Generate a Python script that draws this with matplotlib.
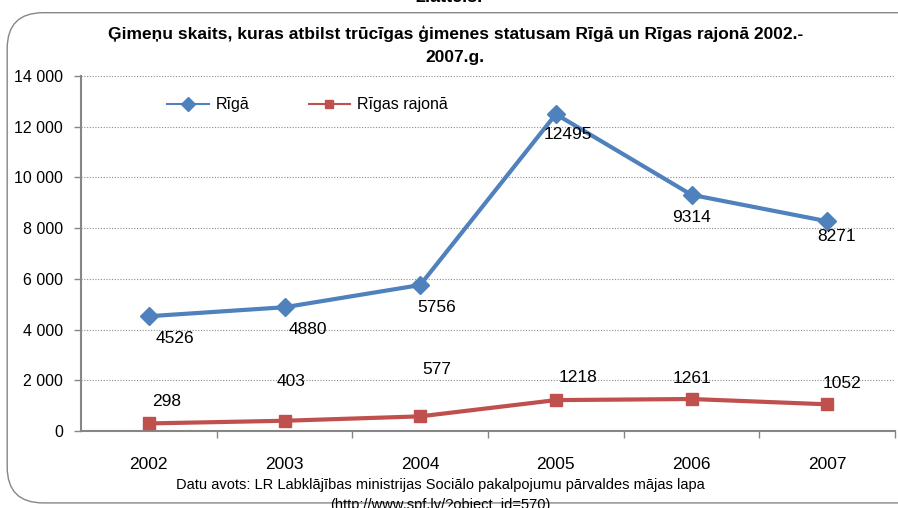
import matplotlib
matplotlib.use("Agg")
import matplotlib.pyplot as plt
from matplotlib.patches import FancyBboxPatch
from matplotlib.ticker import FuncFormatter, FixedLocator
import numpy as np

years = ["2002", "2003", "2004", "2005", "2006", "2007"]
riga = [4526, 4880, 5756, 12495, 9314, 8271]
rajons = [298, 403, 577, 1218, 1261, 1052]

# label offsets in points (dx, dy)
riga_off = [(19, -16), (17, -16), (12, -16), (9, -15), (0, -16), (7, -11)]
rajons_off = [(13, 16), (5, 28.5), (12, 33.5), (16, 16), (0, 15), (11, 15)]

BLUE = "#4F81BD"
RED = "#C0504D"
GRAY = "#868686"
FONT = ["Liberation Sans Narrow", "Liberation Sans", "DejaVu Sans"]
plt.rcParams["font.family"] = FONT

fig = plt.figure(figsize=(8.98, 5.08), dpi=100)
border = FancyBboxPatch((0.008, 0.01), 1.2, 0.965, boxstyle="round,pad=0,rounding_size=0.04",
                        transform=fig.transFigure, facecolor="white", edgecolor=GRAY, lw=1.0,
                        mutation_aspect=898 / 508, zorder=-10)
fig.patches.append(border)

fig.text(0.5, 1.005, "2.attēls.", ha="center", va="center", fontsize=13, fontweight="bold")
fig.text(0.507, 0.933, "Ģimeņu skaits, kuras atbilst trūcīgas ģimenes statusam Rīgā un Rīgas rajonā 2002.-",
         ha="center", va="center", fontsize=12.5, fontweight="bold")
fig.text(0.507, 0.886, "2007.g.", ha="center", va="center", fontsize=12.5, fontweight="bold")

ax = fig.add_axes([0.0902, 0.1516, 0.9065, 0.6988])
x = np.arange(len(years))
ax.plot(x, riga, color=BLUE, lw=3, marker="D", ms=9, label="Rīgā", zorder=3)
ax.plot(x, rajons, color=RED, lw=3, marker="s", ms=8, label="Rīgas rajonā", zorder=3)

for xi, v, (dx, dy) in zip(x, riga, riga_off):
    ax.annotate(str(v), (xi, v), xytext=(dx, dy), textcoords="offset points",
                ha="center", va="center", fontsize=12.5)
for xi, v, (dx, dy) in zip(x, rajons, rajons_off):
    ax.annotate(str(v), (xi, v), xytext=(dx, dy), textcoords="offset points",
                ha="center", va="center", fontsize=12.5)

ax.set_xlim(-0.5, 5.5)
ax.set_ylim(0, 14000)
ax.set_yticks(np.arange(0, 14001, 2000))
ax.yaxis.set_major_formatter(FuncFormatter(lambda v, p: f"{int(v):,}".replace(",", " ")))
ax.set_xticks(x)
ax.set_xticklabels(years, fontsize=12.5)
ax.xaxis.set_minor_locator(FixedLocator(np.arange(0.5, 5.6, 1)))
ax.tick_params(axis="x", which="major", length=0, pad=19)
ax.tick_params(axis="x", which="minor", length=5, color=GRAY, width=1)
ax.tick_params(axis="y", length=5, color=GRAY, width=1, labelsize=11.5, pad=8)

for y in range(2000, 14001, 2000):
    ax.axhline(y, color="#8c8c8c", lw=0.8, ls=(0, (1, 1.5)), zorder=1)

for s in ["top", "right"]:
    ax.spines[s].set_visible(False)
ax.spines["left"].set_color(GRAY)
ax.spines["bottom"].set_color(GRAY)
ax.spines["left"].set_linewidth(1.5)
ax.spines["bottom"].set_linewidth(1.5)
ax.set_facecolor("none")

leg = ax.legend(loc="upper left", bbox_to_anchor=(0.088, 0.98), ncol=2, frameon=False,
                fontsize=11.5, handlelength=2.6, handletextpad=0.45, columnspacing=3.7,
                markerscale=0.75)
for h in leg.get_lines():
    h.set_linewidth(1.5)

fig.text(0.49, 0.045, "Datu avots: LR Labklājības ministrijas Sociālo pakalpojumu pārvaldes mājas lapa",
         ha="center", va="center", fontsize=10.5)
fig.text(0.49, 0.005, "(http://www.spf.lv/?object_id=570)", ha="center", va="center", fontsize=10.5)

fig.savefig("out.png", dpi=100)
